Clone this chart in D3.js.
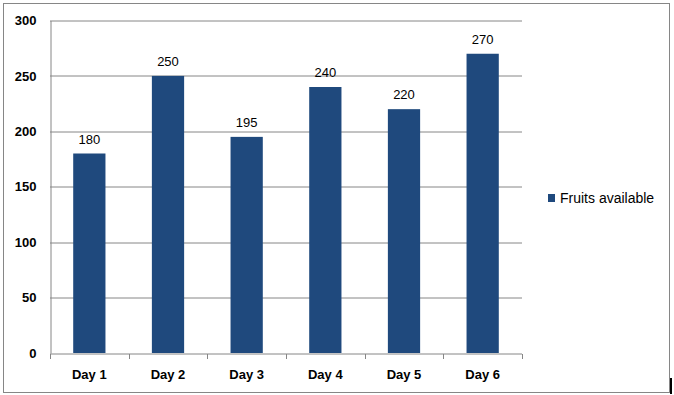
<!DOCTYPE html>
<html>
<head>
<meta charset="utf-8">
<script src="https://cdn.jsdelivr.net/npm/d3@7"></script>
<style>
  body { margin: 0; background: #fff; }
  text { font-family: "Liberation Sans", "DejaVu Sans", sans-serif; }
</style>
</head>
<body>
<div id="chart"></div>
<script>
// chart data
var days = ["Day 1", "Day 2", "Day 3", "Day 4", "Day 5", "Day 6"];
var fruits = [180, 250, 195, 240, 220, 270];
var yTicks = [0, 50, 100, 150, 200, 250, 300];
var seriesName = "Fruits available";

var barColor = "#1F497D",
  lineColor = "#868686";

// plot area
var margin = { top: 20.5, left: 50, right: 152, bottom: 42 },
  W = 674,
  H = 395,
  width = W - margin.left - margin.right,
  height = H - margin.top - margin.bottom;

var svg = d3
  .select("#chart")
  .append("svg")
  .attr("width", W)
  .attr("height", H);

// outer border
svg
  .append("rect")
  .attr("x", 3.5)
  .attr("y", 3.5)
  .attr("width", 666)
  .attr("height", 389)
  .attr("fill", "none")
  .attr("stroke", lineColor);

var g = svg
  .append("g")
  .attr("transform", "translate(" + margin.left + "," + margin.top + ")");

var x = d3
  .scaleBand()
  .domain(days)
  .range([0, width])
  .paddingInner(0.59)
  .paddingOuter(0.295);

var y = d3.scaleLinear().domain([0, 300]).range([height, 0]);

// gridlines
g.selectAll(".grid")
  .data(yTicks.filter((d) => d > 0))
  .enter()
  .append("line")
  .attr("class", "grid")
  .attr("x1", 0)
  .attr("x2", width)
  .attr("y1", (d) => Math.round(y(d)) + 0.5)
  .attr("y2", (d) => Math.round(y(d)) + 0.5)
  .attr("stroke", lineColor);

// bars
g.selectAll(".bar")
  .data(fruits)
  .enter()
  .append("rect")
  .attr("class", "bar")
  .attr("x", (d, i) => x(days[i]))
  .attr("width", x.bandwidth())
  .attr("y", (d) => y(d))
  .attr("height", (d) => height - y(d))
  .attr("fill", barColor);

// value labels
g.selectAll(".val")
  .data(fruits)
  .enter()
  .append("text")
  .attr("class", "val")
  .attr("x", (d, i) => x(days[i]) + x.bandwidth() / 2)
  .attr("y", (d) => y(d) - 10)
  .attr("text-anchor", "middle")
  .attr("font-size", "13px")
  .attr("fill", "#000")
  .text((d) => d);

// y axis
var yAxis = g
  .append("g")
  .attr("transform", "translate(0.5,0)")
  .call(d3.axisLeft(y).tickValues(yTicks).tickSize(0).tickPadding(14));
yAxis.select(".domain").attr("stroke", lineColor);
yAxis
  .selectAll("text")
  .attr("font-size", "13px")
  .attr("font-weight", "bold")
  .attr("fill", "#000")
  .attr("font-family", "Liberation Sans, DejaVu Sans, sans-serif");

// x axis, ticks at band edges
var xAxis = g
  .append("g")
  .attr("transform", "translate(0," + (Math.round(height) + 0.5) + ")");
xAxis
  .append("line")
  .attr("x1", 0)
  .attr("x2", width)
  .attr("stroke", lineColor);
xAxis
  .selectAll(".tick")
  .data(d3.range(days.length + 1))
  .enter()
  .append("line")
  .attr("x1", (i) => Math.round(i * x.step()) + 0.5)
  .attr("x2", (i) => Math.round(i * x.step()) + 0.5)
  .attr("y1", 0)
  .attr("y2", 5)
  .attr("stroke", lineColor);
xAxis
  .selectAll(".lbl")
  .data(days)
  .enter()
  .append("text")
  .attr("x", (d) => x(d) + x.bandwidth() / 2)
  .attr("y", 25)
  .attr("text-anchor", "middle")
  .attr("font-size", "13px")
  .attr("font-weight", "bold")
  .attr("fill", "#000")
  .text((d) => d);

// legend
var leg = svg.append("g").attr("transform", "translate(548,194)");
leg
  .append("rect")
  .attr("width", 7)
  .attr("height", 8)
  .attr("fill", barColor);
leg
  .append("text")
  .attr("x", 12)
  .attr("y", 8.5)
  .attr("font-size", "14px")
  .attr("fill", "#000")
  .text(seriesName);

// text cursor mark at right edge
svg
  .append("rect")
  .attr("x", 670)
  .attr("y", 378)
  .attr("width", 2)
  .attr("height", 16)
  .attr("fill", "#000");
</script>
</body>
</html>
